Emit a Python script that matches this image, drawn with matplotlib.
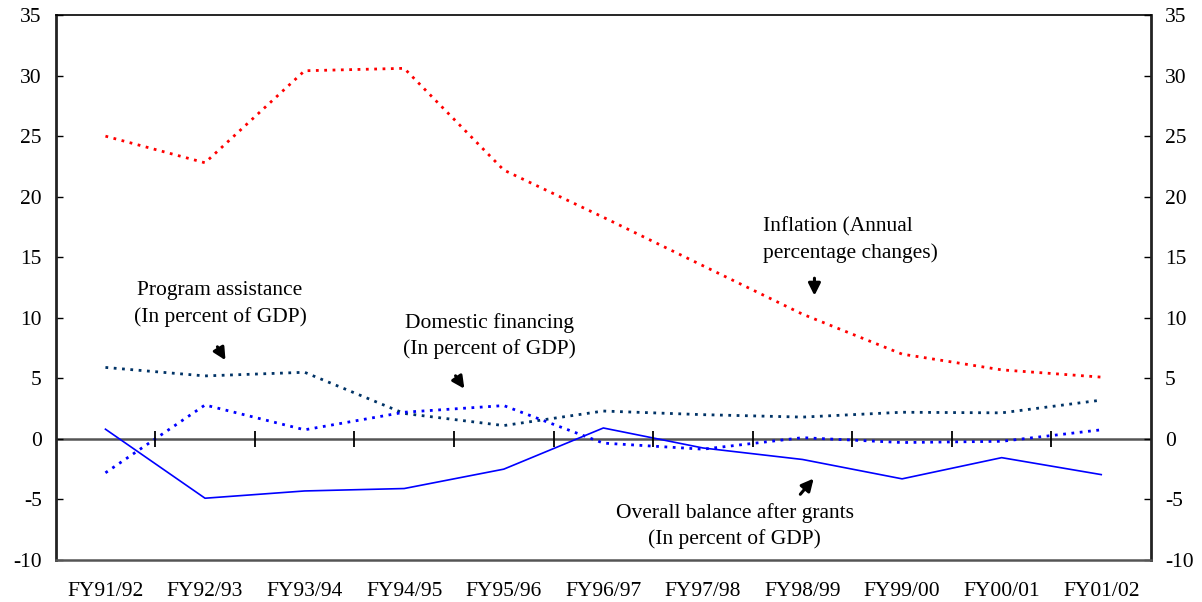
import matplotlib.pyplot as plt
import numpy as np

years = ['FY91/92', 'FY92/93', 'FY93/94', 'FY94/95', 'FY95/96', 'FY96/97',
         'FY97/98', 'FY98/99', 'FY99/00', 'FY00/01', 'FY01/02']
inflation = [25.0, 22.8, 30.4, 30.6, 22.2, 18.3, 14.3, 10.3, 7.0, 5.7, 5.1]
program_assistance = [5.9, 5.2, 5.5, 2.1, 1.1, 2.3, 2.0, 1.8, 2.2, 2.15, 3.2]
domestic_financing = [-2.8, 2.8, 0.75, 2.2, 2.75, -0.35, -0.85, 0.1, -0.3, -0.2, 0.75]
overall_balance = [0.8, -4.9, -4.3, -4.1, -2.5, 0.9, -0.75, -1.7, -3.3, -1.55, -2.95]
y_ticks = [-10, -5, 0, 5, 10, 15, 20, 25, 30, 35]

plt.rcParams['font.family'] = ['Liberation Serif', 'DejaVu Serif']
plt.rcParams['axes.unicode_minus'] = False

fig = plt.figure(figsize=(12.02, 6.02), dpi=100)
ax = fig.add_axes([0.0463, 0.0698, 0.9113, 0.9052])
x = np.arange(len(years))

dots = (0, (1, 2))
ax.plot(x, inflation, color='#FF0000', lw=2, linestyle=dots)
ax.plot(x, program_assistance, color='#003366', lw=2, linestyle=dots)
ax.plot(x, domestic_financing, color='#0000FF', lw=2, linestyle=dots)
ax.plot(x, overall_balance, color='#0000FF', lw=1.2)

# zero line with category separators
ax.axhline(0, color='#555555', lw=1.8, zorder=1)
ax.plot(x[:-1] + 0.5, np.zeros(len(x) - 1), linestyle='none', marker='|',
        markersize=11, markeredgewidth=1.3, color='black')

ax.set_xlim(-0.5, len(years) - 0.5)
ax.set_ylim(-10, 35)
ax.set_xticks(x)
ax.set_xticklabels(years)
ax.set_yticks(y_ticks)
fs = 15.5
ax.tick_params(axis='x', length=0, pad=16, labelsize=fs)
ax.tick_params(axis='y', direction='in', length=5, width=1, pad=10,
               labelsize=fs, right=True, labelright=True)

for side in ['left', 'right']:
    ax.spines[side].set_linewidth(2)
    ax.spines[side].set_color('#222222')
ax.spines['top'].set_linewidth(1.2)
ax.spines['bottom'].set_linewidth(1.8)
ax.spines['bottom'].set_color('#555555')

arrow = dict(arrowstyle='-|>', color='black', lw=2.2, mutation_scale=18)
ls = 1.45

ax.text(1.15, 11.15, 'Program assistance\n(In percent of GDP)', ha='center',
        va='center', fontsize=fs, linespacing=ls)
ax.annotate('', xy=(1.22, 6.3), xytext=(1.11, 7.8), arrowprops=arrow)

ax.text(3.86, 8.5, 'Domestic financing\n(In percent of GDP)', ha='center',
        va='center', fontsize=fs, linespacing=ls)
ax.annotate('', xy=(3.62, 3.95), xytext=(3.5, 5.4), arrowprops=arrow)

ax.text(6.6, 16.4, 'Inflation (Annual\npercentage changes)', ha='left',
        va='center', fontsize=fs, linespacing=ls)
ax.annotate('', xy=(7.12, 11.6), xytext=(7.12, 13.5), arrowprops=arrow)

ax.text(6.32, -7.2, 'Overall balance after grants\n(In percent of GDP)',
        ha='center', va='center', fontsize=fs, linespacing=ls)
ax.annotate('', xy=(7.13, -3.1), xytext=(6.96, -4.75), arrowprops=arrow)

fig.savefig('out.png', dpi=100)
